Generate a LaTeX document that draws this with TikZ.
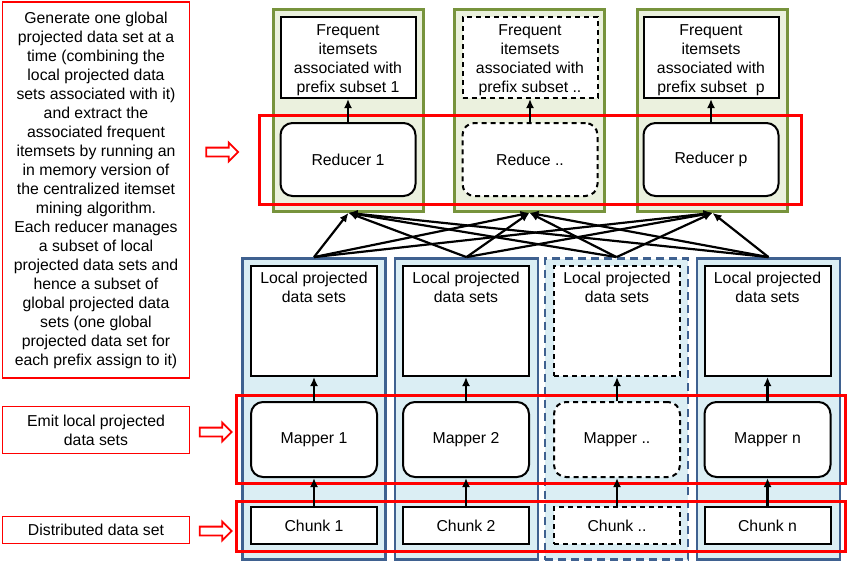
\documentclass[tikz,border=0pt]{standalone}
\usepackage{fontspec}
\setmainfont{Liberation Sans}
\usepackage{tikz}
\usetikzlibrary{arrows.meta,positioning,shapes.arrows}
\definecolor{olivebd}{HTML}{77933C}
\definecolor{olivebg}{HTML}{EBF1DE}
\definecolor{bluebd}{HTML}{3F6190}
\definecolor{bluebg}{HTML}{DBEEF4}

\begin{document}
\begin{tikzpicture}[
    x=1pt, y=-1pt,
    >={Latex[length=9pt,width=8pt]},
    font=\fontsize{15.8}{19}\selectfont,
    rgroup/.style={
		rectangle,
		draw=olivebd,
		fill=olivebg,
		line width=2.8pt,
		inner sep=0pt,
		minimum width=150pt,
		minimum height=202pt
	},
    mgroup/.style={
		rectangle,
		draw=bluebd,
		fill=bluebg,
		line width=2.8pt,
		inner sep=0pt,
		minimum width=143pt,
		minimum height=301pt
	},
	result/.style={
		rectangle,
		draw=black,
		fill=white,
		line width=2pt,
		inner sep=0pt,
		minimum width=135pt,
		minimum height=81pt
	},
	reducer/.style={
		rectangle,
		rounded corners=12pt,
		draw=black,
		fill=white,
		line width=2pt,
		inner sep=0pt,
		minimum width=135pt,
		minimum height=73pt
	},
	localset/.style={
		rectangle,
		draw=black,
		fill=white,
		line width=2pt,
		inner sep=0pt,
		minimum width=126pt,
		minimum height=110pt,
		label={[align=center, anchor=north, yshift=-4pt]north:Local projected\\data sets}
	},
	mapper/.style={
		rectangle,
		rounded corners=12pt,
		draw=black,
		fill=white,
		line width=2pt,
		inner sep=0pt,
		minimum width=126pt,
		minimum height=75pt
	},
	chunk/.style={
		rectangle,
		draw=black,
		fill=white,
		line width=2pt,
		inner sep=0pt,
		minimum width=126pt,
		minimum height=37pt
	},
	ghost/.style={
		dash pattern=on 5pt off 4pt
	},
	phase/.style={
		rectangle,
		draw=red,
		line width=3pt,
		inner sep=0pt,
		minimum width=609pt
	},
	note/.style={
		rectangle,
		draw=red,
		fill=white,
		line width=1.3pt,
		inner sep=0pt,
		align=center,
		minimum width=187pt
	},
	hollow/.style={
		single arrow,
		draw=red,
		fill=white,
		line width=1.8pt,
		inner xsep=0pt,
		inner ysep=3.5pt,
		single arrow head extend=5pt,
		single arrow head indent=0pt,
		minimum height=32pt
	},
	link/.style={
		->,
		line width=2.2pt
	}
  ]

 \useasboundingbox (0,0) rectangle (850,563);

% // The reducers
 \node [rgroup] (rgrp1) at (348.5,110.5) {};
 \node [rgroup] (rgrp2) at (529.5,110.5) {};
 \node [rgroup] (rgrp3) at (712.5,110.5) {};

 \node [result, label={[align=center, yshift=-3pt]center:Frequent\\itemsets\\associated with\\prefix subset 1}] (freq1) at (348,57.5) {};
 \node [result, ghost, label={[align=center, yshift=-3pt]center:Frequent\\itemsets\\associated with\\prefix subset ..}] (freq2) at (530,57.5) {};
 \node [result, label={[align=center, yshift=-3pt]center:Frequent\\itemsets\\associated with\\prefix subset \ p}] (freq3) at (711,57.5) {};

 \node [reducer] (red1) at (348,159.5) {Reducer 1};
 \node [reducer, ghost] (red2) at (530,159.5) {Reduce ..};
 \node [reducer] (red3) at (711,159.5) {Reducer p};

% // The mappers
 \node [mgroup] (mgrp1) at (314,409) {};
 \node [mgroup] (mgrp2) at (466.5,409) {};
 \node [mgroup, dash pattern=on 8pt off 5pt] (mgrp3) at (616.5,409) {};
 \node [mgroup] (mgrp4) at (768.5,409) {};

 \node [localset] (loc1) at (314,321) {};
 \node [localset] (loc2) at (466,321) {};
 \node [localset, ghost] (loc3) at (617,321) {};
 \node [localset] (loc4) at (767.5,321) {};

 \node [mapper] (map1) at (314,439.5) {Mapper 1};
 \node [mapper] (map2) at (466,439.5) {Mapper 2};
 \node [mapper, ghost] (map3) at (617,439.5) {Mapper ..};
 \node [mapper] (map4) at (767.5,439.5) {Mapper n};

 \node [chunk] (chunk1) at (314,525.5) {Chunk 1};
 \node [chunk] (chunk2) at (466,525.5) {Chunk 2};
 \node [chunk, ghost] (chunk3) at (617,525.5) {Chunk ..};
 \node [chunk] (chunk4) at (767.5,525.5) {Chunk n};

% // The phases
 \node [phase, minimum width=542pt, minimum height=89pt] (reduce) at (530.5,160) {};
 \node [phase, minimum height=88pt] (emit) at (541,439.5) {};
 \node [phase, minimum height=50pt] (split) at (541,526.5) {};

% // Notes on the left
 \node [note, minimum height=376pt] (note1) at (96,190)
 {Generate one global\\projected data set at a\\time (combining the\\local projected data\\sets associated with it)\\and extract the\\associated frequent\\itemsets by running an\\in memory version of\\the centralized itemset\\mining algorithm.\\Each reducer manages\\a subset of local\\projected data sets and\\hence a subset of\\global projected data\\sets (one global\\projected data set for\\each prefix assign to it)};
 \node [note, minimum height=47pt] (note2) at (96,430) {Emit local projected\\data sets};
 \node [note, minimum height=27pt] (note3) at (96,530) {Distributed data set};

 \node [hollow] (hol1) at (220,152) {};
 \node [hollow] (hol2) at (213.5,432) {};
 \node [hollow] (hol3) at (213.5,531) {};

% // Inside the columns
 \draw [link] (red1) -- (freq1);
 \draw [link] (red2) -- (freq2);
 \draw [link] (red3) -- (freq3);
 \draw [link] (map1) -- (loc1);
 \draw [link] (map2) -- (loc2);
 \draw [link] (map3) -- (loc3);
 \draw [link] (map4) -- (loc4);
 \draw [link] (chunk1) -- (map1);
 \draw [link] (chunk2) -- (map2);
 \draw [link] (chunk3) -- (map3);
 \draw [link] (chunk4) -- (map4);

% // Shuffle
 \draw [link] (mgrp1.north) -- (rgrp1.south);
 \draw [link] (mgrp1.north) -- (rgrp2.south);
 \draw [link] (mgrp1.north) -- (rgrp3.south);
 \draw [link] (mgrp2.north) -- (rgrp1.south);
 \draw [link] (mgrp2.north) -- (rgrp2.south);
 \draw [link] (mgrp2.north) -- (rgrp3.south);
 \draw [link] (mgrp3.north) -- (rgrp1.south);
 \draw [link] (mgrp3.north) -- (rgrp2.south);
 \draw [link] (mgrp3.north) -- (rgrp3.south);
 \draw [link] (mgrp4.north) -- (rgrp1.south);
 \draw [link] (mgrp4.north) -- (rgrp2.south);
 \draw [link] (mgrp4.north) -- (rgrp3.south);

\end{tikzpicture}
\end{document}
